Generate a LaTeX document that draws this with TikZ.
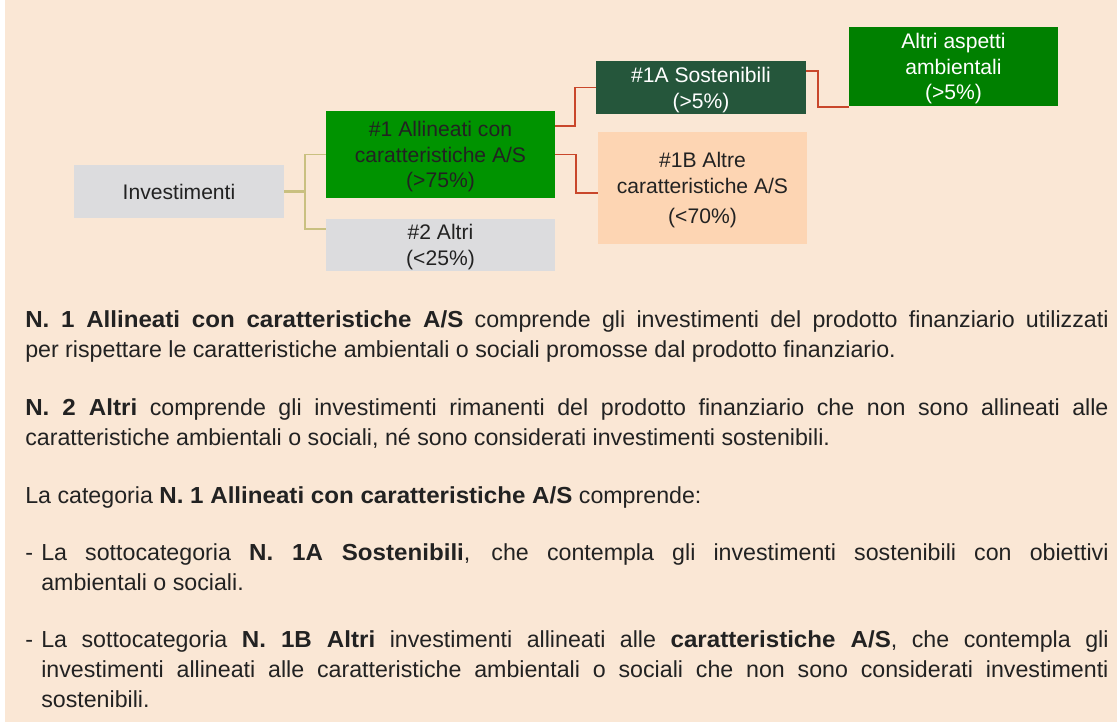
\documentclass[tikz,border=0pt]{standalone}
\usepackage{fontspec}
\setmainfont{Liberation Sans}[BoldFeatures={FakeStretch=1.04}]
\usepackage{xcolor}
\usetikzlibrary{positioning,calc}
\definecolor{bgpeach}{HTML}{FAE7D5}
\definecolor{boxgray}{HTML}{DCDCDE}
\definecolor{leafgreen}{HTML}{009300}
\definecolor{deepgreen}{HTML}{25563B}
\definecolor{envgreen}{HTML}{008000}
\definecolor{softpeach}{HTML}{FDD5B3}
\definecolor{olivelink}{HTML}{C9C080}
\definecolor{redlink}{HTML}{C9472B}
\definecolor{inkdark}{HTML}{222222}
\tikzset{
  category/.style={
    draw=none,
    align=center,
    inner sep=0pt,
    text depth=0pt,
    text=inkdark,
    font=\fontsize{15}{18.3}\selectfont
  },
  trunk/.style={
    olivelink,
    line width=2pt
  },
  branch/.style={
    olivelink,
    line width=1.2pt
  },
  sublink/.style={
    redlink,
    line width=1.4pt
  },
  notes/.style={
    anchor=north west,
    inner sep=0pt,
    text width=27.075cm,
    align=justify,
    text=inkdark,
    font=\fontsize{16.5}{21.3}\selectfont
  }
}

\begin{document}
\begin{tikzpicture}[x=0.025cm,y=-0.025cm]

\fill[white] (0,0) rectangle (1117,725);
\fill[bgpeach] (5,0) rectangle (1117,722);
\useasboundingbox (0,0) rectangle (1117,725);

\node[category, fill=boxgray, minimum width=5.25cm, minimum height=1.325cm] (invest) at (179,191.5) {Investimenti};

\node[category, fill=leafgreen, minimum width=5.725cm, minimum height=2.175cm] (aligned) at (440.5,154.5) {
\#1 Allineati con\\
caratteristiche A/S\\
(>75\%)
};

\node[category, fill=boxgray, minimum width=5.725cm, minimum height=1.3cm] (others) at (440.5,245) {
\#2 Altri\\
(<25\%)
};

\node[category, fill=deepgreen, text=white, minimum width=5.25cm, minimum height=1.325cm] (sustain) at (701,87.5) {
\#1A Sostenibili\\
(>5\%)
};

\node[category, fill=softpeach, minimum width=5.225cm, minimum height=2.8cm] (otheras) at (702.5,188) {
\#1B Altre\\
caratteristiche A/S\\[3pt]
(<70\%)
};

\node[category, fill=envgreen, text=white, minimum width=5.225cm, minimum height=1.975cm] (environ) at (953.5,66.5) {
Altri aspetti\\
ambientali\\
(>5\%)
};

\coordinate (fork) at (305,191.5);
\draw[trunk] (invest.east) -- (fork);
\draw[branch] (aligned.west) -| (fork);
\draw[branch] (fork) |- ([yshift=-0.25cm]others.north west);
\draw[sublink] ([yshift=0.7125cm]aligned.east) -- ++(20,0) |- (sustain.west);
\draw[sublink] (aligned.east) -- ++(21,0) |- ([yshift=-0.125cm]otheras.west);
\draw[sublink] ([yshift=0.4125cm]sustain.east) -- ++(12,0) |- ([yshift=-0.025cm]environ.south west);

\node[notes] (para1) at (25,310.5) {
{\bfseries N. 1 Allineati con caratteristiche A/S} comprende gli investimenti del prodotto finanziario utilizzati\linebreak
per rispettare le caratteristiche ambientali o sociali promosse dal prodotto finanziario.
};

\node[notes] (para2) at (25,398.5) {
{\bfseries N. 2 Altri} comprende gli investimenti rimanenti del prodotto finanziario che non sono allineati alle\linebreak
caratteristiche ambientali o sociali, né sono considerati investimenti sostenibili.
};

\node[notes] (para3) at (25,486.5) {
La categoria {\bfseries N. 1 Allineati con caratteristiche A/S} comprende:
};

\node[notes] (item1a) at (25,543.5) {
\hangindent=0.4cm\hangafter=1\makebox[0.4cm][l]{-}La sottocategoria {\bfseries N. 1A Sostenibili}, che contempla gli investimenti sostenibili con obiettivi\linebreak
ambientali o sociali.\par
};

\node[notes] (item1b) at (25,630.5) {
\hangindent=0.4cm\hangafter=1\makebox[0.4cm][l]{-}La sottocategoria {\bfseries N. 1B Altri} investimenti allineati alle {\bfseries caratteristiche A/S}, che contempla gli\linebreak
investimenti allineati alle caratteristiche ambientali o sociali che non sono considerati investimenti\linebreak
sostenibili.\par
};

\end{tikzpicture}
\end{document}
